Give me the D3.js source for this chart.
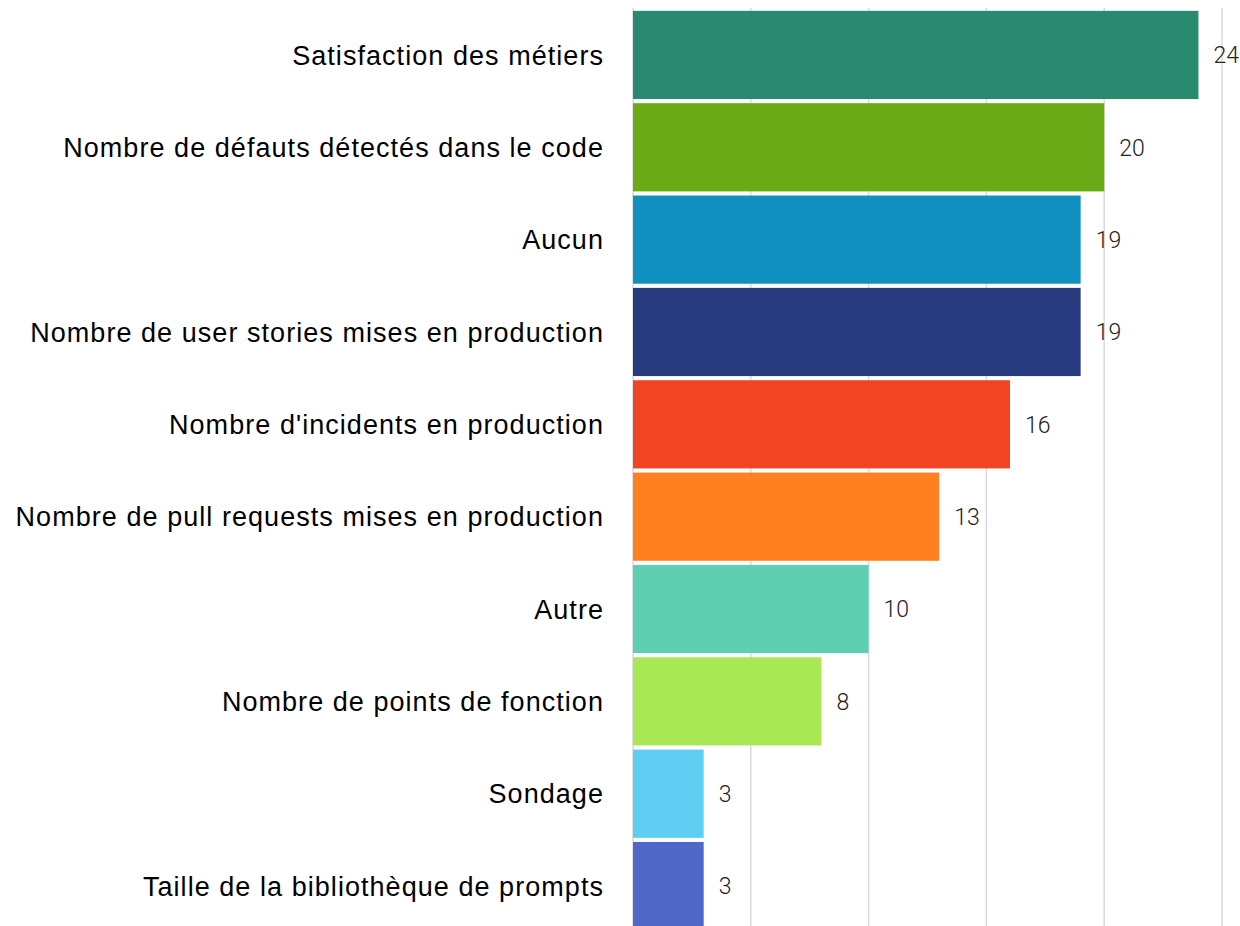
<!DOCTYPE html>
<html>
<head>
<meta charset="utf-8">
<script src="https://cdn.jsdelivr.net/npm/d3@7"></script>
<style>
  body { margin: 0; background: #fff; }
  svg { display: block; }
</style>
</head>
<body>
<div id="vis"></div>
<script>
// data
const categories = [
  "Satisfaction des métiers",
  "Nombre de défauts détectés dans le code",
  "Aucun",
  "Nombre de user stories mises en production",
  "Nombre d'incidents en production",
  "Nombre de pull requests mises en production",
  "Autre",
  "Nombre de points de fonction",
  "Sondage",
  "Taille de la bibliothèque de prompts"
];
const values = [24, 20, 19, 19, 16, 13, 10, 8, 3, 3];
const colors = ["#2a8a70", "#6aaa16", "#1090be", "#283a7e", "#f04425",
                "#ff8020", "#5ecfb1", "#a8e854", "#60cdf3", "#5068c8"];
const xTicks = [0, 5, 10, 15, 20, 25];

// frame
const FRAME_WIDTH = 1240;
const FRAME_HEIGHT = 926;
const MARGINS = {left: 633, right: 18, top: 9, bottom: -6};

const FRAME = d3.select("#vis")
  .append("svg")
    .attr("width", FRAME_WIDTH)
    .attr("height", FRAME_HEIGHT);

const X_SCALE = d3.scaleLinear()
  .domain([0, 25])
  .range([MARGINS.left, FRAME_WIDTH - MARGINS.right]);

const Y_SCALE = d3.scaleBand()
  .domain(categories)
  .range([MARGINS.top, FRAME_HEIGHT - MARGINS.bottom])
  .paddingInner(0.045)
  .paddingOuter(0.02);

// vertical gridlines
FRAME.append("g")
  .selectAll("line")
  .data(xTicks)
  .enter()
  .append("line")
    .attr("x1", (d) => X_SCALE(d))
    .attr("x2", (d) => X_SCALE(d))
    .attr("y1", 8)
    .attr("y2", FRAME_HEIGHT)
    .attr("stroke", "#dadada")
    .attr("stroke-width", 1.5);

// bars
FRAME.append("g")
  .selectAll("rect")
  .data(values)
  .enter()
  .append("rect")
    .attr("x", X_SCALE(0))
    .attr("y", (d, i) => Y_SCALE(categories[i]))
    .attr("width", (d) => X_SCALE(d) - X_SCALE(0))
    .attr("height", Y_SCALE.bandwidth())
    .attr("fill", (d, i) => colors[i]);

// value labels
FRAME.append("g")
  .selectAll("text")
  .data(values)
  .enter()
  .append("text")
    .attr("x", (d) => X_SCALE(d) + 15)
    .attr("y", (d, i) => Y_SCALE(categories[i]) + Y_SCALE.bandwidth() / 2)
    .attr("dy", "0.36em")
    .attr("font-family", "Roboto, 'Liberation Sans', sans-serif")
    .attr("font-weight", 300)
    .attr("font-size", "23px")
    .attr("fill", "#222")
    .text((d) => d);

// category labels
const yAxis = FRAME.append("g")
  .attr("transform", "translate(" + (MARGINS.left - 29) + ",0)")
  .call(d3.axisLeft(Y_SCALE).tickSize(0).tickPadding(0));
yAxis.select(".domain").remove();
yAxis.selectAll("text")
  .attr("font-family", "'Liberation Sans', Arial, sans-serif")
  .attr("font-size", "27px")
  .attr("letter-spacing", "1.05px")
  .attr("dy", "0.36em")
  .attr("fill", "#000");
</script>
</body>
</html>
